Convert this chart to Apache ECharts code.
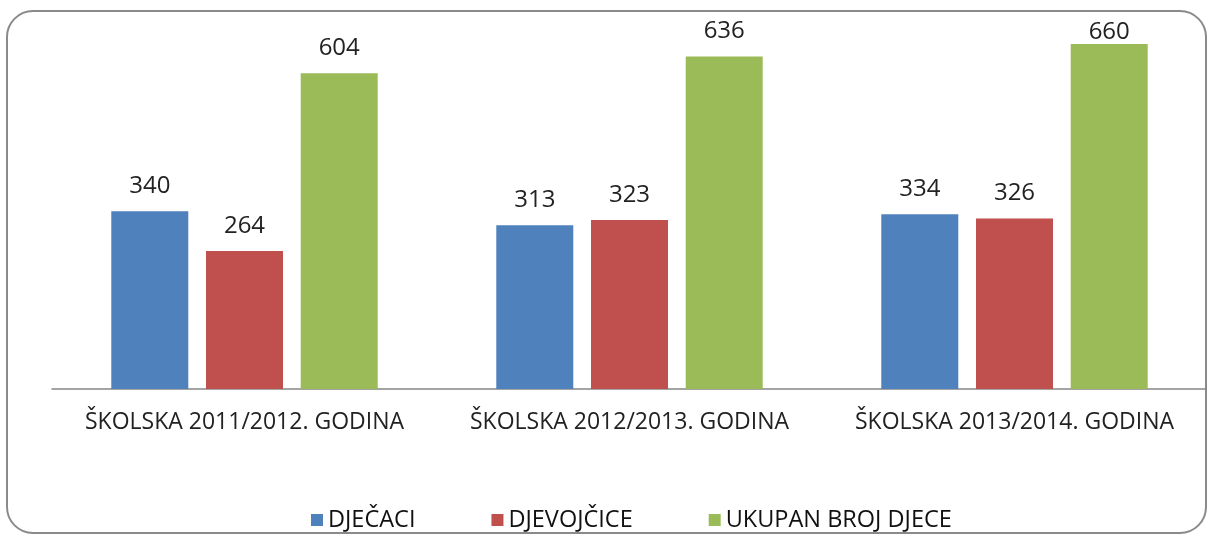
<!DOCTYPE html>
<html>
<head>
<meta charset="utf-8">
<script src="https://cdn.jsdelivr.net/npm/echarts@6/dist/echarts.min.js"></script>
<style>
  html, body { margin: 0; padding: 0; background: #fff; }
  #chart { width: 1207px; height: 535px; }
</style>
</head>
<body>
<div id="chart"></div>
<script>
// podaci
const godine = ['ŠKOLSKA 2011/2012. GODINA', 'ŠKOLSKA 2012/2013. GODINA', 'ŠKOLSKA 2013/2014. GODINA'];
const djecaci = [340, 313, 334];
const djevojcice = [264, 323, 326];
const ukupno = [604, 636, 660];

const chart = echarts.init(document.getElementById('chart'));

const labelStyle = {
    show: true,
    position: 'top',
    distance: 13,
    color: '#222',
    fontFamily: 'Open Sans',
    fontSize: 24
};

// najviša oznaka je pritisnuta uz rub, kao u originalu
const ukupnoData = ukupno.map((v, i) => i === 2 ? { value: v, label: { distance: 0 } } : v);

const option = {
    animation: false,
    graphic: [{
        type: 'rect',
        shape: { x: 7, y: 11, width: 1199, height: 522, r: 26 },
        style: { fill: 'none', stroke: '#8a8a8a', lineWidth: 2 },
        silent: true
    }],
    legend: {
        left: 306,
        top: 503,
        itemWidth: 12,
        itemHeight: 12,
        itemGap: 76,
        icon: 'rect',
        textStyle: { fontFamily: 'Open Sans', fontSize: 23.5, color: '#111' },
        data: ['DJEČACI', 'DJEVOJČICE', 'UKUPAN BROJ DJECE']
    },
    grid: { left: 52, right: 0, top: 23, bottom: 146 },
    xAxis: {
        type: 'category',
        data: godine,
        axisLine: { lineStyle: { color: '#868686', width: 1.5 } },
        axisTick: { show: false },
        axisLabel: { color: '#222', fontFamily: 'Open Sans', fontSize: 23, margin: 22, interval: 0, hideOverlap: false }
    },
    yAxis: {
        type: 'value',
        min: 0,
        max: 700,
        show: false,
        splitLine: { show: false }
    },
    series: [
        { name: 'DJEČACI', type: 'bar', data: djecaci, barWidth: 77, barGap: '23%', itemStyle: { color: '#4f81bd' }, label: labelStyle },
        { name: 'DJEVOJČICE', type: 'bar', data: djevojcice, barWidth: 77, barGap: '23%', itemStyle: { color: '#c0504d' }, label: labelStyle },
        { name: 'UKUPAN BROJ DJECE', type: 'bar', data: ukupnoData, barWidth: 77, barGap: '23%', itemStyle: { color: '#9bbb59' }, label: labelStyle }
    ]
};

chart.setOption(option);
</script>
</body>
</html>
